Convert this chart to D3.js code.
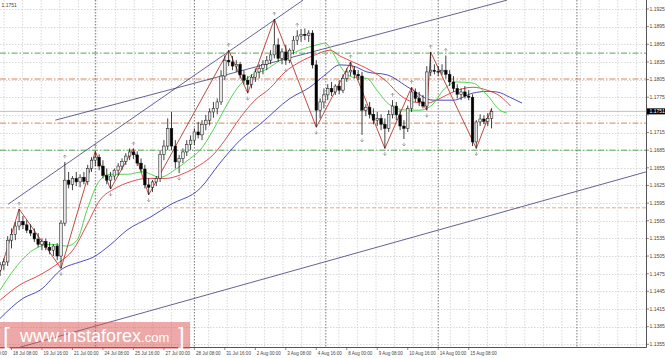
<!DOCTYPE html>
<html>
<head>
<meta charset="utf-8">
<script src="https://cdn.jsdelivr.net/npm/d3@7"></script>
<style>
  body { margin: 0; background: #fff; }
  svg { display: block; font-family: "Liberation Sans", Arial, sans-serif; }
</style>
</head>
<body>
<div class="chart"></div>
<script>
const svgWidth = 665;
const svgHeight = 358;
const plotRight = 646;
const plotBottom = 347;

// H4 bars, index 0 = 18 Jul 08:00, first bar drawn is index -3
const firstBar = -3;
const opens = [1.1481,1.1490,1.1495,1.1532,1.1542,1.1556,1.1564,1.1558,1.1549,1.1544,1.1534,1.1525,1.1530,1.1520,1.1515,1.1522,1.1505,1.1561,
  1.1634,1.1627,1.1637,1.1631,1.1639,1.1632,1.1654,1.1668,1.1673,1.1658,1.1642,1.1634,1.1641,1.1651,1.1658,1.1666,1.1675,1.1682,1.1677,1.1663,1.1653,1.1626,
  1.1622,1.1631,1.1637,1.1678,1.1692,1.1722,1.1692,1.1665,1.1671,1.1682,1.1695,1.1702,1.1716,1.1711,1.1729,1.1736,1.1750,1.1756,1.1767,1.1811,1.1838,
  1.1835,1.1828,1.1831,1.1813,1.1804,1.1797,1.1809,1.1818,1.1824,1.1831,1.1838,1.1847,1.1864,1.1841,1.1852,1.1838,1.1855,1.1872,1.1879,1.1882,1.1880,1.1884,1.1830,
  1.1753,1.1767,1.1779,1.1790,1.1784,1.1794,1.1787,1.1807,1.1818,1.1821,1.1814,1.1811,
  1.1753,1.1758,1.1746,1.1736,1.1739,1.1729,1.1722,1.1746,1.1760,1.1745,1.1726,1.1722,1.1756,1.1784,1.1773,1.1767,1.1760,1.1818,1.1821,
  1.1819,1.1818,1.1821,1.1814,1.1801,1.1790,1.1780,1.1784,1.1777,1.1775,1.1699,1.1733,1.1738,1.1734,1.1739];
const highs = [1.1495,1.1501,1.1539,1.1552,1.1563,1.1585,1.1573,1.1566,1.1559,1.1552,1.1544,1.1535,1.1535,1.1529,1.1525,1.1527,1.1566,1.1665,
  1.1648,1.1641,1.1648,1.1644,1.1648,1.1660,1.1673,1.1683,1.1678,1.1668,1.1654,1.1648,1.1654,1.1663,1.1671,1.1680,1.1688,1.1687,1.1683,1.1671,1.1660,1.1637,
  1.1634,1.1641,1.1685,1.1702,1.1739,1.1750,1.1702,1.1677,1.1688,1.1702,1.1710,1.1722,1.1733,1.1736,1.1745,1.1756,1.1767,1.1773,1.1821,1.1846,1.1855,
  1.1845,1.1838,1.1835,1.1821,1.1811,1.1814,1.1824,1.1831,1.1838,1.1845,1.1855,1.1908,1.1875,1.1858,1.1864,1.1858,1.1879,1.1889,1.1891,1.1892,1.1889,1.1889,1.1838,
  1.1773,1.1790,1.1797,1.1801,1.1797,1.1804,1.1814,1.1824,1.1835,1.1828,1.1821,1.1818,
  1.1763,1.1767,1.1756,1.1750,1.1746,1.1739,1.1753,1.1770,1.1767,1.1753,1.1736,1.1761,1.1792,1.1790,1.1784,1.1779,1.1828,1.1852,1.1831,
  1.1828,1.1831,1.1846,1.1821,1.1811,1.1797,1.1790,1.1794,1.1787,1.1780,1.1736,1.1746,1.1744,1.1748,1.1756];
const lows = [1.1471,1.1481,1.1488,1.1518,1.1532,1.1549,1.1551,1.1544,1.1539,1.1529,1.1520,1.1515,1.1515,1.1508,1.1505,1.1498,1.1484,1.1556,
  1.1620,1.1617,1.1624,1.1622,1.1627,1.1626,1.1648,1.1658,1.1651,1.1637,1.1627,1.1619,1.1634,1.1642,1.1651,1.1660,1.1668,1.1670,1.1658,1.1648,1.1620,1.1609,
  1.1614,1.1624,1.1631,1.1668,1.1685,1.1685,1.1654,1.1646,1.1663,1.1675,1.1685,1.1694,1.1705,1.1702,1.1719,1.1727,1.1740,1.1746,1.1762,1.1804,1.1828,
  1.1821,1.1818,1.1807,1.1797,1.1782,1.1790,1.1801,1.1807,1.1814,1.1821,1.1831,1.1841,1.1835,1.1831,1.1830,1.1833,1.1848,1.1864,1.1869,1.1872,1.1869,1.1824,1.1724,
  1.1739,1.1756,1.1770,1.1777,1.1779,1.1780,1.1782,1.1801,1.1811,1.1807,1.1804,1.1711,
  1.1743,1.1739,1.1729,1.1726,1.1719,1.1688,1.1716,1.1739,1.1736,1.1719,1.1704,1.1716,1.1750,1.1767,1.1760,1.1756,1.1753,1.1811,1.1814,
  1.1811,1.1813,1.1807,1.1794,1.1784,1.1773,1.1770,1.1773,1.1770,1.1692,1.1688,1.1726,1.1729,1.1726,1.1722];
const closes = [1.1490,1.1495,1.1532,1.1542,1.1556,1.1564,1.1558,1.1549,1.1544,1.1534,1.1525,1.1530,1.1520,1.1515,1.1522,1.1505,1.1561,1.1634,
  1.1627,1.1637,1.1631,1.1639,1.1632,1.1654,1.1668,1.1673,1.1658,1.1642,1.1634,1.1641,1.1651,1.1658,1.1666,1.1675,1.1682,1.1677,1.1663,1.1653,1.1626,1.1622,
  1.1631,1.1637,1.1678,1.1692,1.1722,1.1692,1.1665,1.1671,1.1682,1.1695,1.1702,1.1716,1.1711,1.1729,1.1736,1.1750,1.1756,1.1767,1.1811,1.1838,1.1835,
  1.1828,1.1831,1.1813,1.1804,1.1797,1.1809,1.1818,1.1824,1.1831,1.1838,1.1847,1.1864,1.1841,1.1852,1.1838,1.1855,1.1872,1.1879,1.1882,1.1880,1.1884,1.1830,1.1753,
  1.1767,1.1779,1.1790,1.1784,1.1794,1.1787,1.1807,1.1818,1.1821,1.1814,1.1811,1.1753,
  1.1758,1.1746,1.1736,1.1739,1.1729,1.1722,1.1746,1.1760,1.1745,1.1726,1.1722,1.1756,1.1784,1.1773,1.1767,1.1760,1.1818,1.1821,1.1819,
  1.1818,1.1821,1.1814,1.1801,1.1790,1.1780,1.1784,1.1777,1.1775,1.1699,1.1733,1.1738,1.1734,1.1739,1.1751];

// Alligator lines: [bar index, price]
const lipsGreen = [[-3,1.1447],[0.9,1.1484],[5.6,1.1515],[10.1,1.1525],[14.6,1.1522],[17.2,1.1532],[19.8,1.1583],[23.2,1.1634],
  [25.9,1.1644],[30.3,1.1644],[34.5,1.1648],[39,1.1639],[43.4,1.1654],[46.9,1.1671],[49.5,1.1685],[52.9,1.1719],[56,1.1756],
  [59.2,1.1790],[62.6,1.1811],[66.5,1.1821],[71.3,1.1841],[75.7,1.1855],[80.2,1.1864],[82.3,1.1867],[84.4,1.1850],[87,1.1821],
  [89.6,1.1809],[93.3,1.1807],[95.9,1.1787],[99.3,1.1762],[103.8,1.1753],[107.2,1.1753],[110.6,1.1763],[113.3,1.1787],
  [116.9,1.1801],[121.1,1.1799],[124.8,1.1779],[128.2,1.1753],[130,1.1748]];
const teethRed = [[-3,1.1430],[2.2,1.1456],[7.5,1.1473],[12.7,1.1495],[16.1,1.1515],[19.8,1.1558],[23.2,1.1600],[27.2,1.1620],
  [31.1,1.1631],[35.6,1.1637],[40.3,1.1637],[46.1,1.1648],[49.5,1.1660],[52.9,1.1677],[56,1.1702],[59.9,1.1739],[63.9,1.1770],
  [67.8,1.1790],[71.8,1.1818],[75.7,1.1835],[79.7,1.1847],[83.6,1.1855],[86.2,1.1845],[89.6,1.1835],[94.1,1.1821],[98.6,1.1801],
  [101.9,1.1779],[105.4,1.1767],[109.1,1.1765],[112.5,1.1773],[115.9,1.1784],[121.1,1.1792],[124.8,1.1787],[128.2,1.1777],[131,1.1760]];
const jawBlue = [[-3,1.1399],[3,1.1433],[7.5,1.1447],[13.5,1.1484],[18,1.1495],[21.4,1.1503],[25.9,1.1524],[30.3,1.1549],
  [36.4,1.1571],[41.6,1.1592],[49.5,1.1620],[54.7,1.1663],[60,1.1702],[65.2,1.1729],[73.1,1.1773],[78.3,1.1792],[82.3,1.1813],
  [86.2,1.1830],[89.6,1.1828],[93.3,1.1818],[98.6,1.1813],[104.6,1.1790],[110.6,1.1770],[115.9,1.1770],[121.1,1.1782],
  [124.8,1.1785],[127.4,1.1784],[130.8,1.1775],[134,1.1765]];

// ZigZag turning points: [bar index, price]
const zigzag = [[-3,1.1478],[2,1.1585],[13,1.1484],[22,1.1683],[26,1.1619],[32,1.1688],[36,1.1609],[57,1.1855],[62,1.1782],
  [69,1.1908],[80,1.1724],[89,1.1835],[98,1.1688],[105,1.1792],[109,1.1753],[110,1.1852],[122,1.1688],[126,1.1756]];
const fractalUp = [2,14,22,32,57,69,75,89,100,105,110,114];
const fractalDown = [13,26,36,44,62,72,80,92,98,103,109,122];

// trend lines: [bar, price] pairs
const trendLines = [
  [[-0.9,1.1593],[76.5,1.1940]],
  [[11.5,1.1736],[130,1.1940]],
  [[2.2,1.1350],[166.5,1.1648]]
];
const levelsGreen = [1.1850, 1.1685];
const levelsOrange = [1.1806, 1.1731];
const levelDashed = [1.1587];
const lastPrice = 1.1751;
const separatorBars = [22, 48, 82.5, 112, 148.4];

const priceTicks = d3.range(20).map(k => +(1.1355 + 0.003 * k).toFixed(4));
const timeLabels = ['17 Jul 00:00','18 Jul 08:00','19 Jul 16:00','21 Jul 00:00','24 Jul 08:00','25 Jul 16:00','27 Jul 00:00',
  '28 Jul 08:00','31 Jul 16:00','2 Aug 00:00','3 Aug 08:00','4 Aug 16:00','8 Aug 00:00','9 Aug 08:00','10 Aug 16:00',
  '14 Aug 00:00','15 Aug 08:00'];

const bars = opens.map((o, k) => ({i: firstBar + k, o: o, h: highs[k], l: lows[k], c: closes[k]}));

const svg = d3.select('.chart')
  .append('svg')
  .attr('width', svgWidth)
  .attr('height', svgHeight);

const x = d3.scaleLinear().domain([0, 120]).range([11.5, 11.5 + 3.81 * 120]);
const y = d3.scaleLinear().domain([1.13504, 1.19403]).range([plotBottom, 0]);

svg.append('clipPath').attr('id', 'plotClip')
  .append('rect').attr('x', 0).attr('y', 0).attr('width', plotRight).attr('height', plotBottom);

//grid
const grid = svg.append('g').attr('clip-path', 'url(#plotClip)');
grid.selectAll('.hgrid')
  .data(priceTicks)
  .enter()
  .append('line')
  .attr('x1', 0).attr('x2', plotRight)
  .attr('y1', d => Math.round(y(d)) + 0.5).attr('y2', d => Math.round(y(d)) + 0.5)
  .attr('stroke', '#c8c8c8').attr('stroke-width', 0.7).attr('stroke-dasharray', '1.5,1.5');
grid.selectAll('.vgrid')
  .data(d3.range(4, plotRight, 18.6))
  .enter()
  .append('line')
  .attr('x1', d => d).attr('x2', d => d)
  .attr('y1', 0).attr('y2', plotBottom)
  .attr('stroke', '#c8c8c8').attr('stroke-width', 0.7).attr('stroke-dasharray', '1.5,1.5');
grid.selectAll('.sep')
  .data(separatorBars)
  .enter()
  .append('line')
  .attr('x1', d => x(d)).attr('x2', d => x(d))
  .attr('y1', 0).attr('y2', plotBottom)
  .attr('stroke', '#555').attr('stroke-width', 0.8).attr('stroke-dasharray', '1.5,1.5');

//horizontal levels
const chart = svg.append('g').attr('clip-path', 'url(#plotClip)');
function level(p, color, dash) {
  chart.append('line')
    .attr('x1', 0).attr('x2', plotRight)
    .attr('y1', y(p)).attr('y2', y(p))
    .attr('stroke', color).attr('stroke-width', 0.9).attr('stroke-dasharray', dash);
}
levelsGreen.forEach(p => level(p, '#3f9f3f', '6,2,1.5,2'));
levelsOrange.forEach(p => level(p, '#d0784a', '6,2,1.5,2'));
levelDashed.forEach(p => level(p, '#e2a07e', '4,2'));
chart.append('line')
  .attr('x1', 0).attr('x2', plotRight)
  .attr('y1', y(lastPrice)).attr('y2', y(lastPrice))
  .attr('stroke', '#b0b0b0').attr('stroke-width', 0.8);

//trend lines
chart.selectAll('.trend')
  .data(trendLines)
  .enter()
  .append('line')
  .attr('x1', d => x(d[0][0])).attr('y1', d => y(d[0][1]))
  .attr('x2', d => x(d[1][0])).attr('y2', d => y(d[1][1]))
  .attr('stroke', '#3c3c78').attr('stroke-width', 0.8);

//alligator
const line = d3.line().x(d => x(d[0])).y(d => y(d[1])).curve(d3.curveMonotoneX);
[[jawBlue, '#3a3ab4'], [teethRed, '#d83a3a'], [lipsGreen, '#3ecf3e']].forEach(function(s) {
  chart.append('path')
    .attr('d', line(s[0]))
    .attr('fill', 'none')
    .attr('stroke', s[1])
    .attr('stroke-width', 0.9);
});

//zigzag
chart.append('path')
  .attr('d', d3.line().x(d => x(d[0])).y(d => y(d[1]))(zigzag))
  .attr('fill', 'none')
  .attr('stroke', '#b8352e')
  .attr('stroke-width', 0.9);

//candles
const candles = chart.selectAll('.candle')
  .data(bars)
  .enter()
  .append('g');
candles.append('line')
  .attr('x1', d => x(d.i)).attr('x2', d => x(d.i))
  .attr('y1', d => y(d.h)).attr('y2', d => y(d.l))
  .attr('stroke', '#111').attr('stroke-width', 0.8);
candles.append('rect')
  .attr('x', d => x(d.i) - 1.3)
  .attr('width', 2.6)
  .attr('y', d => y(Math.max(d.o, d.c)))
  .attr('height', d => Math.max(0.8, Math.abs(y(d.o) - y(d.c))))
  .attr('fill', d => d.c >= d.o ? '#e6e6e6' : '#000')
  .attr('stroke', '#111')
  .attr('stroke-width', 0.5);

//fractal arrows
const byIndex = new Map(bars.map(d => [d.i, d]));
chart.selectAll('.fup')
  .data(fractalUp)
  .enter()
  .append('path')
  .attr('d', function(i) {
    const cx = x(i), cy = y(byIndex.get(i).h) - 7;
    return `M${cx - 1.6},${cy + 1.8}L${cx},${cy}L${cx + 1.6},${cy + 1.8}M${cx},${cy}V${cy + 3.5}`;
  })
  .attr('fill', 'none').attr('stroke', '#8a8a8a').attr('stroke-width', 0.7);
chart.selectAll('.fdown')
  .data(fractalDown)
  .enter()
  .append('path')
  .attr('d', function(i) {
    const cx = x(i), cy = y(byIndex.get(i).l) + 7;
    return `M${cx - 1.6},${cy - 1.8}L${cx},${cy}L${cx + 1.6},${cy - 1.8}M${cx},${cy}V${cy - 3.5}`;
  })
  .attr('fill', 'none').attr('stroke', '#8a8a8a').attr('stroke-width', 0.7);

//axes frame
svg.append('line')
  .attr('x1', plotRight + 0.5).attr('x2', plotRight + 0.5)
  .attr('y1', 0).attr('y2', plotBottom + 0.5)
  .attr('stroke', '#555').attr('stroke-width', 1);
svg.append('line')
  .attr('x1', 0).attr('x2', plotRight + 0.5)
  .attr('y1', plotBottom + 0.5).attr('y2', plotBottom + 0.5)
  .attr('stroke', '#555').attr('stroke-width', 1);

//price scale, the label under the last-price box is left out
const rightAxis = svg.append('g');
rightAxis.selectAll('.ptick')
  .data(priceTicks)
  .enter()
  .append('line')
  .attr('x1', plotRight).attr('x2', plotRight + 3)
  .attr('y1', d => y(d)).attr('y2', d => y(d))
  .attr('stroke', '#555').attr('stroke-width', 0.7);
rightAxis.selectAll('.plabel')
  .data(priceTicks.filter(d => Math.abs(y(d) - y(lastPrice)) > 6))
  .enter()
  .append('text')
  .attr('x', plotRight + 3.5)
  .attr('y', d => y(d) + 1.8)
  .attr('font-size', '5px')
  .attr('fill', '#444')
  .text(d => d.toFixed(4));
rightAxis.append('rect')
  .attr('x', plotRight + 1).attr('y', y(lastPrice) - 3)
  .attr('width', 18).attr('height', 6)
  .attr('fill', '#000');
rightAxis.append('text')
  .attr('x', plotRight + 3.5)
  .attr('y', y(lastPrice) + 1.8)
  .attr('font-size', '5px')
  .attr('fill', '#fff')
  .text(lastPrice.toFixed(4));

//time scale
const timeAxis = svg.append('g');
timeAxis.selectAll('.tlabel')
  .data(timeLabels)
  .enter()
  .append('text')
  .attr('x', (d, k) => x((k - 1) * 8) + 1.5)
  .attr('y', 354.5)
  .attr('font-size', '4.5px')
  .attr('fill', '#444')
  .text(d => d);
timeAxis.selectAll('.ttick')
  .data(timeLabels)
  .enter()
  .append('line')
  .attr('x1', (d, k) => x((k - 1) * 8)).attr('x2', (d, k) => x((k - 1) * 8))
  .attr('y1', plotBottom).attr('y2', plotBottom + 3)
  .attr('stroke', '#555').attr('stroke-width', 0.7);

svg.append('text')
  .attr('x', 1.5).attr('y', 6.5)
  .attr('font-size', '5px')
  .attr('fill', '#444')
  .text(lastPrice.toFixed(4));

//watermark
const wm = svg.append('g');
wm.append('rect')
  .attr('x', 0).attr('y', 322)
  .attr('width', 190).attr('height', 27)
  .attr('fill', '#d9534f').attr('opacity', 0.5);
wm.append('text')
  .attr('x', 3).attr('y', 344)
  .attr('fill', '#fff')
  .attr('font-size', '24px')
  .attr('font-weight', 300)
  .text('[');
wm.append('text')
  .attr('x', 20).attr('y', 342)
  .attr('fill', '#fff')
  .attr('font-size', '18px')
  .html('www.instaforex<tspan font-size="13px">.com</tspan>');
wm.append('text')
  .attr('x', 178).attr('y', 344)
  .attr('fill', '#fff')
  .attr('font-size', '24px')
  .attr('font-weight', 300)
  .text(']');
</script>
</body>
</html>
